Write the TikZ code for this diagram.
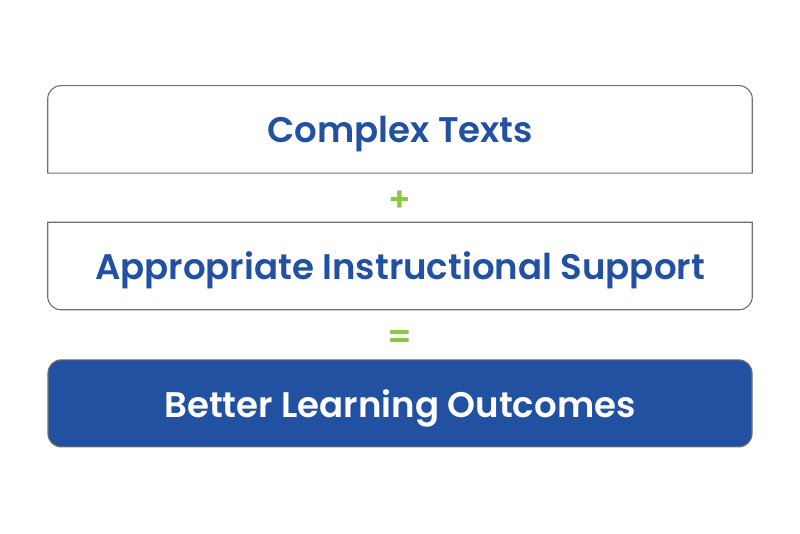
\documentclass[tikz,border=0pt]{standalone}
\usepackage{fontspec}
\setmainfont{Poppins}[BoldFont={Poppins SemiBold}]
\usetikzlibrary{positioning}
\definecolor{tblue}{HTML}{2251A2}
\definecolor{tgreen}{HTML}{8DC63F}
\definecolor{tgray}{HTML}{707070}

\begin{document}
\begin{tikzpicture}[
  box/.style={minimum width=17.6cm, minimum height=2.175cm, align=center, text depth=0pt, font=\fontsize{25.3}{30}\selectfont\bfseries, inner sep=0pt},
  edge/.style={draw=tgray, line width=0.8pt},
  sign/.style={font=\fontsize{24}{28}\selectfont\bfseries, text=tgreen},
]
  \useasboundingbox (0,0) rectangle (20,13.325);

  % Inputs
  \node[box, text=tblue] (texts) at (10, 10.09) {Complex Texts};
  \node[sign] (plus) at (10, 8.3) {+};
  \node[box, text=tblue] (support) at (10, 6.675) {Appropriate Instructional Support};
  \node[sign] (equals) at (10, 4.83) {=};

  % Outcome
  \node[box, text=white, fill=tblue, draw=tgray, line width=0.8pt, rounded corners=0.33cm] (outcome) at (10, 3.24) {Better Learning Outcomes};

  % Outlines
  \draw[edge] (texts.south west) [rounded corners=0.33cm] -- (texts.north west) -- (texts.north east) [sharp corners] -- (texts.south east) -- cycle;
  \draw[edge] (support.north east) [rounded corners=0.33cm] -- (support.south east) -- (support.south west) [sharp corners] -- (support.north west) -- cycle;
\end{tikzpicture}
\end{document}
